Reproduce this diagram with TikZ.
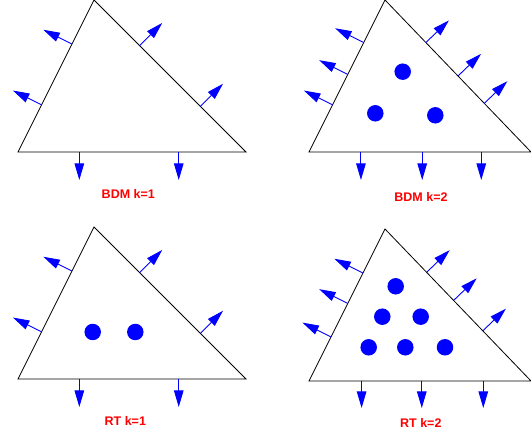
\documentclass[tikz,border=0pt]{standalone}
\usepackage{fontspec}
\setmainfont{Liberation Sans}
\usetikzlibrary{arrows.meta,calc}

\begin{document}
\begin{tikzpicture}[x=1pt,y=1pt,
 tri/.style={draw=black,line width=0.8pt,line join=miter},
 nrm/.style={draw=blue,line width=0.9pt,-{Triangle[length=16.5pt,width=9.5pt]}},
 dof/.style={circle,fill=blue,inner sep=0pt,minimum size=16.5pt},
 lab/.style={text=red,font=\fontsize{12.5}{14}\selectfont\bfseries}]
\useasboundingbox (0,0) rectangle (531,435);
% BDM k=1
\coordinate (L1) at (18,283);\coordinate (T1) at (94,435);\coordinate (R1) at (246,283);
\draw[tri] (L1)--(T1)--(R1)--cycle;
\draw[nrm] ($(L1)!.31!(T1)$)--($(L1)!.31!(T1)!32pt!90:(T1)$);
\draw[nrm] ($(L1)!.71!(T1)$)--($(L1)!.71!(T1)!32pt!90:(T1)$);
\draw[nrm] ($(T1)!.3!(R1)$)--($(T1)!.3!(R1)!32pt!90:(R1)$);
\draw[nrm] ($(T1)!.7!(R1)$)--($(T1)!.7!(R1)!32pt!90:(R1)$);
\draw[nrm] ($(R1)!.295!(L1)$)--($(R1)!.295!(L1)!28pt!90:(L1)$);
\draw[nrm] ($(R1)!.731!(L1)$)--($(R1)!.731!(L1)!28pt!90:(L1)$);
\node[lab] (t1) at (128.3,241) {BDM k=1};
% BDM k=2
\coordinate (L2) at (309,283);\coordinate (T2) at (385,435);\coordinate (R2) at (531,283);
\draw[tri] (L2)--(T2)--(R2)--cycle;
\draw[nrm] ($(L2)!.31!(T2)$)--($(L2)!.31!(T2)!32pt!90:(T2)$);
\draw[nrm] ($(L2)!.51!(T2)$)--($(L2)!.51!(T2)!32pt!90:(T2)$);
\draw[nrm] ($(L2)!.72!(T2)$)--($(L2)!.72!(T2)!32pt!90:(T2)$);
\draw[nrm] ($(T2)!.28!(R2)$)--($(T2)!.28!(R2)!32pt!90:(R2)$);
\draw[nrm] ($(T2)!.5!(R2)$)--($(T2)!.5!(R2)!32pt!90:(R2)$);
\draw[nrm] ($(T2)!.68!(R2)$)--($(T2)!.68!(R2)!32pt!90:(R2)$);
\draw[nrm] ($(R2)!.224!(L2)$)--($(R2)!.224!(L2)!28pt!90:(L2)$);
\draw[nrm] ($(R2)!.49!(L2)$)--($(R2)!.49!(L2)!28pt!90:(L2)$);
\draw[nrm] ($(R2)!.766!(L2)$)--($(R2)!.766!(L2)!28pt!90:(L2)$);
\node[dof] (b1) at (402.7,363.3) {};
\node[dof] (b2) at (375.3,321.7) {};
\node[dof] (b3) at (435.3,319.7) {};
\node[lab] (t2) at (421,238.3) {BDM k=2};
% RT k=1
\coordinate (L3) at (18,56);\coordinate (T3) at (94,208);\coordinate (R3) at (246,56);
\draw[tri] (L3)--(T3)--(R3)--cycle;
\draw[nrm] ($(L3)!.31!(T3)$)--($(L3)!.31!(T3)!32pt!90:(T3)$);
\draw[nrm] ($(L3)!.71!(T3)$)--($(L3)!.71!(T3)!32pt!90:(T3)$);
\draw[nrm] ($(T3)!.3!(R3)$)--($(T3)!.3!(R3)!32pt!90:(R3)$);
\draw[nrm] ($(T3)!.7!(R3)$)--($(T3)!.7!(R3)!32pt!90:(R3)$);
\draw[nrm] ($(R3)!.295!(L3)$)--($(R3)!.295!(L3)!28pt!90:(L3)$);
\draw[nrm] ($(R3)!.731!(L3)$)--($(R3)!.731!(L3)!28pt!90:(L3)$);
\node[dof] (r1) at (92.7,103) {};
\node[dof] (r2) at (135.3,103) {};
\node[lab] (t3) at (125.3,13.7) {RT k=1};
% RT k=2
\coordinate (L4) at (309,54);\coordinate (T4) at (385,206);\coordinate (R4) at (531,54);
\draw[tri] (L4)--(T4)--(R4)--cycle;
\draw[nrm] ($(L4)!.29!(T4)$)--($(L4)!.29!(T4)!32pt!90:(T4)$);
\draw[nrm] ($(L4)!.51!(T4)$)--($(L4)!.51!(T4)!32pt!90:(T4)$);
\draw[nrm] ($(L4)!.71!(T4)$)--($(L4)!.71!(T4)!32pt!90:(T4)$);
\draw[nrm] ($(T4)!.285!(R4)$)--($(T4)!.285!(R4)!32pt!90:(R4)$);
\draw[nrm] ($(T4)!.47!(R4)$)--($(T4)!.47!(R4)!32pt!90:(R4)$);
\draw[nrm] ($(T4)!.67!(R4)$)--($(T4)!.67!(R4)!32pt!90:(R4)$);
\draw[nrm] ($(R4)!.215!(L4)$)--($(R4)!.215!(L4)!27pt!90:(L4)$);
\draw[nrm] ($(R4)!.492!(L4)$)--($(R4)!.492!(L4)!27pt!90:(L4)$);
\draw[nrm] ($(R4)!.763!(L4)$)--($(R4)!.763!(L4)!27pt!90:(L4)$);
\node[dof] (s1) at (395.7,148.7) {};
\node[dof] (s2) at (382.3,118.3) {};
\node[dof] (s3) at (420.7,118.3) {};
\node[dof] (s4) at (368.7,87.7) {};
\node[dof] (s5) at (405.3,87.7) {};
\node[dof] (s6) at (445,87.7) {};
\node[lab] (t4) at (420.8,11.7) {RT k=2};
\end{tikzpicture}
\end{document}
